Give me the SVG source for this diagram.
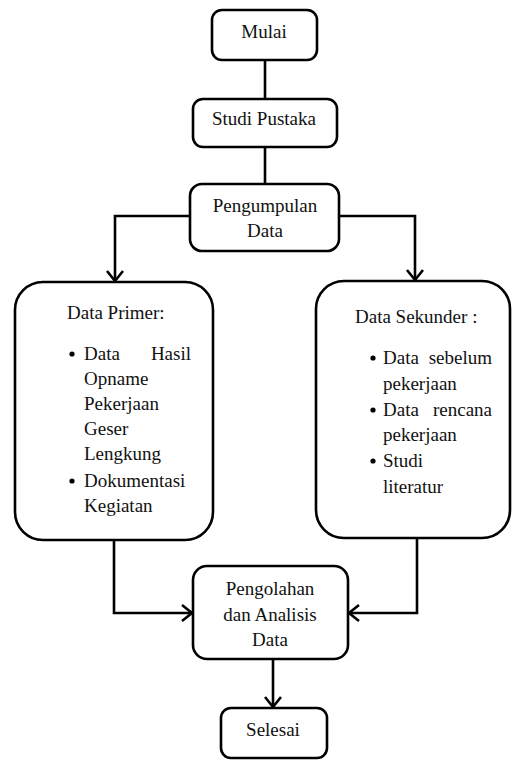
<svg xmlns="http://www.w3.org/2000/svg" width="512" height="760" viewBox="0 0 512 760">
<style>
.box{fill:#fff;stroke:#000;stroke-width:2.6}
.t{font-family:'Liberation Serif','Times New Roman','DejaVu Serif',serif;font-size:19px;fill:#111}
.c{text-anchor:middle}
.e{text-anchor:end}
.ln{fill:none;stroke:#000;stroke-width:2.6}
</style>
<defs>
<marker id="arr" markerUnits="userSpaceOnUse" markerWidth="20" markerHeight="20" viewBox="-12 -10 14 20" refX="0" refY="0" orient="auto">
<polyline points="-10,-8 0,0 -10,8" fill="none" stroke="#000" stroke-width="2.6"/>
</marker>
</defs>
<rect width="512" height="760" fill="#fff"/>
<g id="connectors">
<line class="ln" x1="265" y1="60" x2="265" y2="99"/>
<line class="ln" x1="265" y1="147" x2="265" y2="184"/>
<polyline class="ln" points="190,216 115,216 115,281" marker-end="url(#arr)"/>
<polyline class="ln" points="339,216 415,216 415,280" marker-end="url(#arr)"/>
<polyline class="ln" points="114,540 114,613 192,613" marker-end="url(#arr)"/>
<polyline class="ln" points="417,538 417,613 349,613" marker-end="url(#arr)"/>
<line class="ln" x1="273" y1="659" x2="273" y2="707" marker-end="url(#arr)"/>
</g>
<g id="mulai">
<rect class="box" x="212" y="10" width="105" height="50" rx="10"/>
<text class="t c" x="264" y="38">Mulai</text>
</g>
<g id="studi-pustaka">
<rect class="box" x="193" y="99" width="144" height="48" rx="10"/>
<text class="t c" x="264" y="125">Studi Pustaka</text>
</g>
<g id="pengumpulan-data">
<rect class="box" x="190" y="184" width="149" height="67" rx="12"/>
<text class="t c" x="265" y="212">Pengumpulan</text>
<text class="t c" x="265" y="237">Data</text>
</g>
<g id="data-primer">
<rect class="box" x="15" y="282" width="198" height="258" rx="28"/>
<text class="t" x="67" y="319">Data Primer:</text>
<circle cx="72" cy="354" r="2.6" fill="#000"/>
<text class="t"><tspan x="84" y="360">Data</tspan><tspan class="e" x="191" y="360">Hasil</tspan></text>
<text class="t" x="84" y="385">Opname</text>
<text class="t" x="84" y="410">Pekerjaan</text>
<text class="t" x="84" y="435">Geser</text>
<text class="t" x="84" y="460">Lengkung</text>
<circle cx="72" cy="481" r="2.6" fill="#000"/>
<text class="t" x="84" y="487">Dokumentasi</text>
<text class="t" x="84" y="512">Kegiatan</text>
</g>
<g id="data-sekunder">
<rect class="box" x="316" y="281" width="194" height="257" rx="28"/>
<text class="t" x="355" y="323">Data Sekunder :</text>
<circle cx="373" cy="358" r="2.6" fill="#000"/>
<text class="t"><tspan x="383" y="364">Data</tspan><tspan class="e" x="492" y="364">sebelum</tspan></text>
<text class="t" x="383" y="390">pekerjaan</text>
<circle cx="373" cy="410" r="2.6" fill="#000"/>
<text class="t"><tspan x="383" y="416">Data</tspan><tspan class="e" x="492" y="416">rencana</tspan></text>
<text class="t" x="383" y="441">pekerjaan</text>
<circle cx="373" cy="461" r="2.6" fill="#000"/>
<text class="t" x="383" y="467">Studi</text>
<text class="t" x="383" y="493">literatur</text>
</g>
<g id="pengolahan">
<rect class="box" x="193" y="566" width="155" height="93" rx="14"/>
<text class="t c" x="270" y="595">Pengolahan</text>
<text class="t c" x="270" y="621">dan Analisis</text>
<text class="t c" x="270" y="646">Data</text>
</g>
<g id="selesai">
<rect class="box" x="221" y="708" width="106" height="50" rx="10"/>
<text class="t c" x="273" y="736">Selesai</text>
</g>
</svg>
